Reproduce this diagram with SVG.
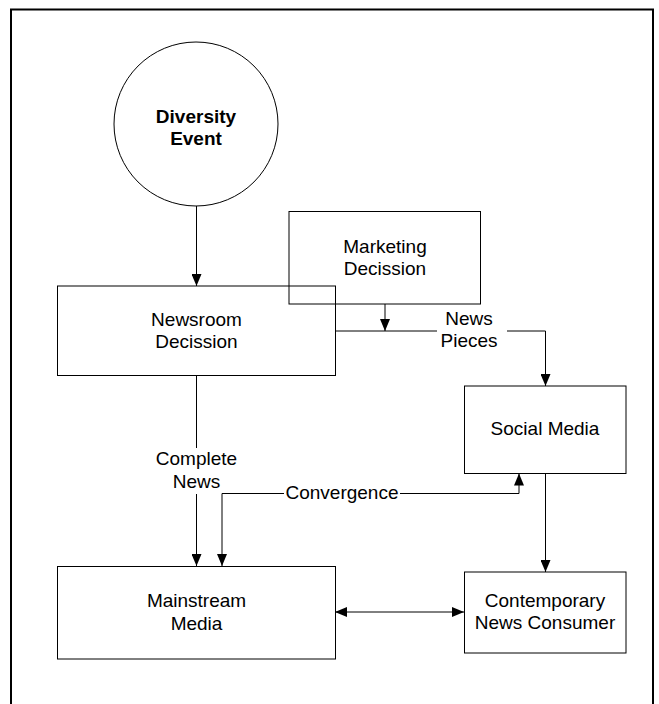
<svg xmlns="http://www.w3.org/2000/svg" width="659" height="704" viewBox="0 0 659 704">
<defs>
<marker id="ah" markerUnits="userSpaceOnUse" markerWidth="12" markerHeight="10" refX="12" refY="5" orient="auto-start-reverse" viewBox="0 0 12 10">
<path d="M0,0 L12,5 L0,10 z" fill="#000"/>
</marker>
<style>
.node{fill:none;stroke:#000;stroke-width:1}
.t{font-family:"Liberation Sans",Arial,sans-serif;font-size:19px;fill:#000;text-anchor:middle}
.b{font-weight:bold}
.c{fill:none;stroke:#000;stroke-width:1}
.bg{fill:#fff;stroke:none}
</style>
</defs>
<rect width="659" height="704" fill="#fff"/>
<path d="M11,720 V9.5 H653 V720" fill="none" stroke="#000" stroke-width="2"/>

<g id="connectors">
<path class="c" d="M196.5,206 V286" marker-end="url(#ah)"/>
<path class="c" d="M385,304 V331" marker-end="url(#ah)"/>
<path class="c" d="M335,331 H545.5 V386" marker-end="url(#ah)"/>
<path class="c" d="M196.5,375 V448"/>
<path class="c" d="M196.5,494 V566" marker-end="url(#ah)"/>
<path class="c" d="M222,566 V493.5 H519 V473.5" marker-start="url(#ah)" marker-end="url(#ah)"/>
<path class="c" d="M545.5,473.5 V572" marker-end="url(#ah)"/>
<path class="c" d="M335,612 H464" marker-start="url(#ah)" marker-end="url(#ah)"/>
<rect class="bg" x="437" y="310" width="70" height="42"/>
<text class="t" x="469" y="325">News</text>
<text class="t" x="469" y="347">Pieces</text>
<text class="t" x="196.5" y="465">Complete</text>
<text class="t" x="196.5" y="487.5">News</text>
<rect class="bg" x="284" y="484" width="116" height="18"/>
<text class="t" x="342" y="498.5">Convergence</text>
</g>

<g id="diversity-event">
<circle class="node" cx="196" cy="124" r="82"/>
<text class="t b" x="196" y="123">Diversity</text>
<text class="t b" x="196" y="145">Event</text>
</g>

<g id="newsroom-decission">
<rect class="node" x="57.5" y="286" width="278" height="89.5"/>
<text class="t" x="196.5" y="326">Newsroom</text>
<text class="t" x="196.5" y="348">Decission</text>
</g>

<g id="marketing-decission">
<rect class="node" x="289" y="211.5" width="191.5" height="92.5"/>
<text class="t" x="385" y="253">Marketing</text>
<text class="t" x="385" y="275">Decission</text>
</g>

<g id="social-media">
<rect class="node" x="464.5" y="386" width="161.5" height="87.5"/>
<text class="t" x="545" y="435">Social Media</text>
</g>

<g id="mainstream-media">
<rect class="node" x="57.5" y="566.5" width="278" height="92.5"/>
<text class="t" x="196.5" y="607">Mainstream</text>
<text class="t" x="196.5" y="630">Media</text>
</g>

<g id="contemporary-news-consumer">
<rect class="node" x="464.5" y="572" width="161.5" height="81"/>
<text class="t" x="545" y="607">Contemporary</text>
<text class="t" x="545" y="629">News Consumer</text>
</g>
</svg>
